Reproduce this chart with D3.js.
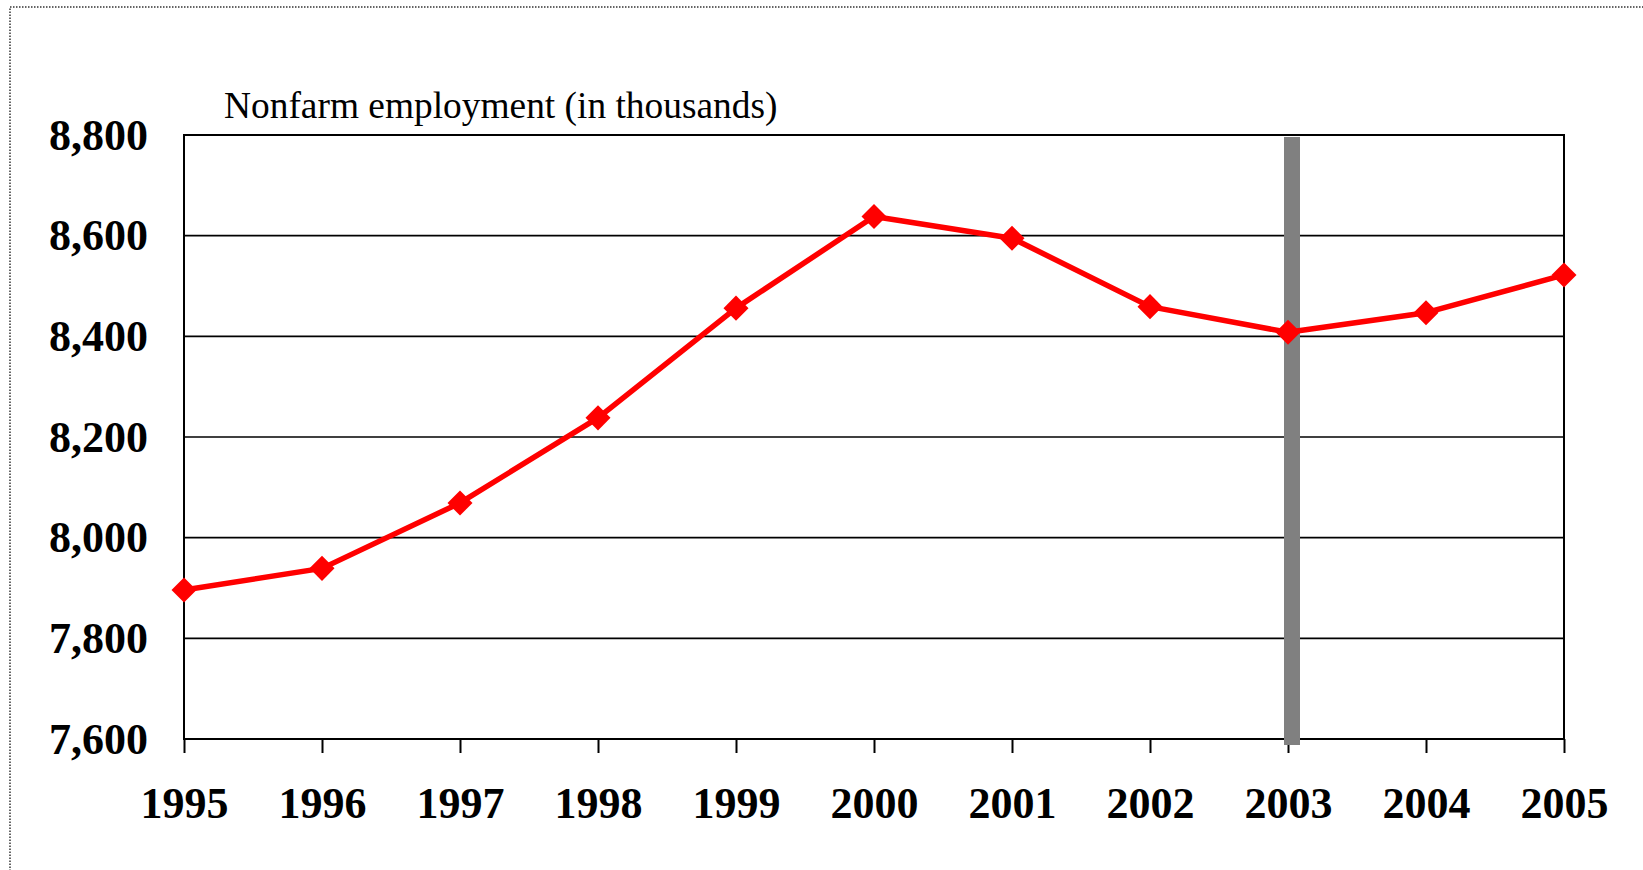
<!DOCTYPE html>
<html>
<head>
<meta charset="utf-8">
<script src="https://cdn.jsdelivr.net/npm/d3@7"></script>
<style>
  body { margin: 0; background: #fff; }
  text { font-family: "Liberation Serif", "Times New Roman", serif; }
</style>
</head>
<body>
<script>
// data
var years = [1995, 1996, 1997, 1998, 1999, 2000, 2001, 2002, 2003, 2004, 2005];
var employment = [7896, 7939, 8069, 8238, 8456, 8638, 8595, 8459, 8408, 8447, 8522];
var yTicks = [7600, 7800, 8000, 8200, 8400, 8600, 8800];
var markerYear = 2003;
var yLabel = "Nonfarm employment (in thousands)";

var W = 1643, H = 870;
var margin = {top: 135, right: 79, bottom: 131, left: 184},
    width = W - margin.left - margin.right,
    height = H - margin.top - margin.bottom;

var root = d3.select("body")
  .append("svg")
    .attr("width", W)
    .attr("height", H);

// dotted outer frame (runs off right and bottom)
root.append("rect")
  .attr("x", 10).attr("y", 7)
  .attr("width", W + 20).attr("height", H + 20)
  .attr("fill", "none")
  .attr("stroke", "#333")
  .attr("stroke-width", 1.5)
  .attr("stroke-dasharray", "1.5,1.5");

var svg = root.append("g")
  .attr("transform", "translate(" + margin.left + "," + margin.top + ")");

var x = d3.scaleLinear()
  .domain([years[0], years[years.length - 1]])
  .range([0, width]);

var y = d3.scaleLinear()
  .domain([7600, 8800])
  .range([height, 0]);

// gridlines
svg.append("g")
  .selectAll("line")
  .data(yTicks)
  .enter()
  .append("line")
    .attr("x1", 0).attr("x2", width)
    .attr("y1", function(d) { return y(d); })
    .attr("y2", function(d) { return y(d); })
    .attr("stroke", "#000")
    .attr("stroke-width", 1.6);

// plot frame
svg.append("rect")
  .attr("width", width).attr("height", height)
  .attr("fill", "none")
  .attr("stroke", "#000")
  .attr("stroke-width", 2);

// X axis
var xAxis = svg.append("g")
  .attr("transform", "translate(0," + height + ")")
  .call(d3.axisBottom(x).tickValues(years).tickFormat(d3.format("d")).tickSize(14).tickPadding(34));
xAxis.select(".domain").remove();
xAxis.selectAll("line").attr("stroke", "#000").attr("stroke-width", 2);
xAxis.selectAll("text")
  .attr("fill", "#000")
  .style("font-family", "'Liberation Serif', 'Times New Roman', serif")
  .style("font-size", "44px")
  .style("font-weight", "bold");

// Y axis
var yAxis = svg.append("g")
  .call(d3.axisLeft(y).tickValues(yTicks).tickFormat(d3.format(",")).tickSize(0).tickPadding(36));
yAxis.select(".domain").remove();
yAxis.selectAll("text")
  .attr("fill", "#000")
  .style("font-family", "'Liberation Serif', 'Times New Roman', serif")
  .style("font-size", "44px")
  .style("font-weight", "bold");

// axis title
svg.append("text")
  .attr("x", 40)
  .attr("y", -17)
  .style("font-size", "37.4px")
  .text(yLabel);

// gray marker bar
svg.append("rect")
  .attr("x", x(markerYear) - 4)
  .attr("y", y(8800) + 2)
  .attr("width", 16)
  .attr("height", y(7600) - y(8800) + 4)
  .attr("fill", "#808080");

// line
var line = d3.line()
  .x(function(d, i) { return x(years[i]); })
  .y(function(d) { return y(d); });

svg.append("path")
  .datum(employment)
  .attr("fill", "none")
  .attr("stroke", "#ff0000")
  .attr("stroke-width", 5.5)
  .attr("stroke-linejoin", "round")
  .attr("d", line);

// diamonds
svg.append("g")
  .selectAll("path")
  .data(employment)
  .enter()
  .append("path")
    .attr("d", d3.symbol().type(d3.symbolDiamond2).size(400))
    .attr("transform", function(d, i) { return "translate(" + x(years[i]) + "," + y(d) + ")"; })
    .attr("fill", "#ff0000");
</script>
</body>
</html>
